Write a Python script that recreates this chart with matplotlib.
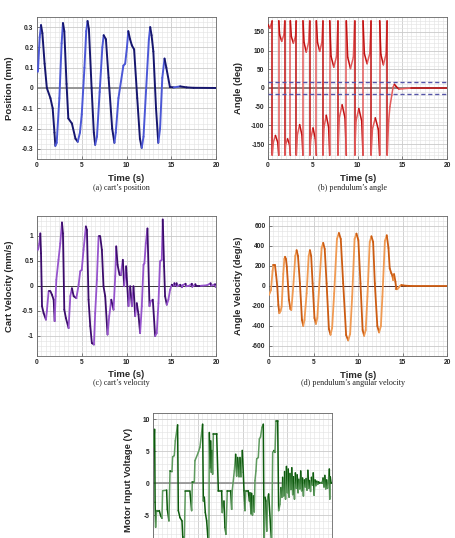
import matplotlib
matplotlib.use('Agg')
import matplotlib.pyplot as plt
import numpy as np
from matplotlib.collections import LineCollection
from matplotlib.ticker import MultipleLocator, FuncFormatter

plt.rcParams['font.family'] = 'Liberation Sans'
plt.rcParams['font.weight'] = 'bold'
plt.rcParams['axes.unicode_minus'] = False

# (a) cart position [mm]
t_pos = [0.1, 0.3, 0.45, 0.6, 0.85, 1.1, 1.5, 1.75, 1.95, 2.05,
         2.2, 2.5, 2.75, 2.9, 3.05, 3.3, 3.5, 3.9, 4.3, 4.55,
         4.8, 5.0, 5.3, 5.5, 5.65, 5.8, 6.1, 6.35, 6.5, 6.7,
         7.0, 7.3, 7.45, 7.7, 8.0, 8.4, 8.65, 8.8, 9.1, 9.65,
         9.85, 10.05, 10.2, 10.4, 10.6, 10.85, 11.2, 11.5, 11.7, 11.9,
         12.2, 12.5, 12.65, 12.8, 13.0, 13.3, 13.55, 13.75, 14.0, 14.25,
         14.45, 14.85, 15.3, 16.0, 16.7, 17.5, 20.0]
pos = [0.08, 0.25, 0.31, 0.27, 0.12, 0.0, -0.05, -0.1, -0.22, -0.285,
       -0.27, -0.05, 0.22, 0.32, 0.28, 0.02, -0.15, -0.175, -0.25, -0.265,
       -0.22, -0.13, 0.1, 0.28, 0.33, 0.29, 0.0, -0.22, -0.28, -0.24,
       -0.02, 0.2, 0.26, 0.24, 0.05, -0.2, -0.27, -0.22, -0.05, 0.11,
       0.12, 0.2, 0.28, 0.24, 0.21, 0.19, -0.05, -0.25, -0.295, -0.24,
       0.0, 0.24, 0.3, 0.26, 0.18, -0.1, -0.27, -0.2, 0.05, 0.145,
       0.1, 0.005, 0.003, 0.008, 0.003, 0.001, 0.0]

# (b) pendulum angle [deg], wrapped to +-180
t_ang = [0, 0.2, 0.48,
         0.48, 0.6, 0.83, 1.08, 1.2,
         1.2, 1.3, 1.53, 1.77, 1.87,
         1.87, 1.96, 2.18, 2.4, 2.5,
         2.5, 2.6, 2.83, 3.07, 3.17,
         3.17, 3.28, 3.53, 3.78, 3.9,
         3.9, 4.02, 4.27, 4.53, 4.65,
         4.65, 4.78, 5.02, 5.27, 5.4,
         5.4, 5.52, 5.77, 6.01, 6.13,
         6.13, 6.25, 6.5, 6.76, 6.88,
         6.88, 7.03, 7.34, 7.65, 7.8,
         7.8, 7.95, 8.27, 8.59, 8.74,
         8.74, 8.89, 9.2, 9.52, 9.67,
         9.67, 9.82, 10.13, 10.45, 10.6,
         10.6, 10.75, 11.05, 11.35, 11.5,
         11.5, 11.65, 11.97, 12.3, 12.45,
         12.45, 12.59, 12.87, 13.16, 13.3,
         13.3, 13.45, 13.6, 13.8, 13.95, 14.1, 14.3, 14.6, 15.0, 15.5, 16.0, 20.0]
ang = [170, 160, 180,
       -180, -145, -127, -145, -180,
       180, 142, 125, 142, 180,
       -180, -152, -136, -152, -180,
       180, 138, 120, 138, 180,
       -180, -125, -98, -125, -180,
       180, 122, 96, 122, 180,
       -180, -135, -107, -135, -180,
       180, 122, 98, 122, 180,
       -180, -105, -73, -105, -180,
       180, 85, 56, 85, 180,
       -180, -80, -45, -80, -180,
       180, 82, 52, 82, 180,
       -180, -88, -55, -88, -180,
       180, 92, 65, 92, 180,
       -180, -110, -80, -110, -180,
       180, 90, 62, 90, 180,
       -180, -90, -50, -20, 2, 10, 4, -3, -2, -1, 0, 0]
ang_band = [-15, 15]

# (c) cart velocity [mm/s]
t_vel = [0.11, 0.26, 0.37, 0.45, 0.56, 0.74, 1.0, 1.1, 1.3, 1.5,
         1.67, 1.86, 1.97, 2.08, 2.16, 2.4, 2.6, 2.79, 2.9, 3.05,
         3.23, 3.53, 3.72, 3.9, 4.1, 4.4, 4.65, 4.83, 5.0, 5.2,
         5.46, 5.58, 5.76, 5.95, 6.13, 6.36, 6.5, 6.69, 6.88, 7.06,
         7.25, 7.43, 7.62, 7.88, 8.07, 8.3, 8.55, 8.74, 8.85, 9.0,
         9.22, 9.37, 9.59, 9.74, 9.96, 10.22, 10.41, 10.6, 10.78, 10.97,
         11.15, 11.34, 11.52, 11.71, 11.9, 12.0, 12.16, 12.34, 12.57, 12.7,
         12.94, 13.2, 13.38, 13.57, 13.75, 13.94, 14.05, 14.2, 14.31, 14.5,
         14.68, 14.87, 15.06,
         15.3, 15.35, 15.5, 15.6, 15.65, 16.0, 16.2, 16.25, 16.6, 16.65,
         17.0, 17.3, 17.35, 17.7, 17.75, 18.3, 19.0, 19.4, 19.45, 19.9, 19.95, 20.0]
vel = [0.72, 0.85, 1.05, 0.65, -0.41, -0.55, -0.68, -0.51, -0.11, -0.11,
       -0.18, -0.28, -0.71, -0.21, 0.12, 0.52, 0.85, 1.27, 1.05, -0.48,
       -0.65, -0.85, -0.21, -0.05, -0.21, -0.25, 0.02, 0.29, 0.32, 0.72,
       1.19, 1.12, -0.28, -0.81, -1.15, -1.18, -0.55, 0.12, 0.99, 0.99,
       0.72, -0.01, -0.21, -0.98, -0.61, -0.28, -0.48, 0.19, 0.79, 0.42,
       0.22, 0.22, 0.52, -0.01, 0.39, -0.41, -0.01, -0.41, -0.01, -0.61,
       -0.35, -0.58, -0.95, -0.41, 0.42, 0.45, 0.85, 1.15, -0.41, -0.31,
       -0.28, -1.01, -0.95, -0.35, 0.49, 0.52, 1.33, 0.39, -0.21, -0.38,
       -0.28, -0.08, 0.02,
       0.0, 0.05, 0.01, 0.05, -0.01, 0.02, -0.03, 0.01, 0.04, -0.01,
       0.0, 0.04, -0.02, 0.03, 0.0, 0.0, 0.01, 0.05, 0.0, 0.03, -0.02, 0.0]

# (d) pendulum angular velocity [deg/s]
t_angvel = [0.0, 0.22, 0.4, 0.5, 0.67, 0.8, 0.93, 1.05, 1.16, 1.3,
            1.42, 1.6, 1.72, 1.8, 1.9, 2.0, 2.24, 2.4, 2.5, 2.72,
            2.95, 3.1, 3.25, 3.47, 3.7, 3.84, 3.98, 4.22, 4.45, 4.59,
            4.73, 4.89, 5.1, 5.26, 5.42, 5.63, 5.9, 6.08, 6.25, 6.46,
            6.72, 6.9, 7.08, 7.31, 7.62, 7.84, 8.05, 8.32, 8.65, 8.88,
            9.1, 9.33, 9.6, 9.81, 10.02, 10.26, 10.5, 10.67, 10.85, 11.04,
            11.3, 11.49, 11.68, 11.87, 12.15, 12.35, 12.55, 12.72, 13.0, 13.21,
            13.4, 13.54, 13.73, 13.85, 13.92, 14.03, 14.18, 14.29, 14.4, 14.55,
            14.7, 14.85, 15.1, 15.5, 16.0, 20.0]
angvel = [-90, -40, 150, 209, 209, 110, -7, -190, -272, -250,
          -205, 120, 270, 292, 270, 192, -139, -230, -239, -7,
          300, 358, 300, 27, -340, -398, -340, -73, 300, 358,
          300, 27, -320, -378, -320, -7, 380, 431, 370, 27,
          -430, -487, -420, -73, 470, 530, 470, 27, -490, -544,
          -480, -106, 470, 524, 460, 27, -440, -497, -440, -106,
          440, 497, 440, 27, -400, -464, -400, -106, 450, 507,
          380, 176, 126, 100, 60, 119, 43, -33, -33, -15,
          0, 10, 5, 2, 0, 0]

# (e) motor input voltage [V]
t_volt = [0.0, 0.15, 0.2, 0.26, 0.37, 0.67, 0.82, 0.97, 1.04, 1.49,
          1.57, 1.75, 1.87, 2.09, 2.16, 2.35, 2.46, 2.72, 2.8, 2.99,
          3.21, 3.3, 3.47, 3.58, 4.1, 4.29, 4.37, 4.59, 4.66, 5.04,
          5.22, 5.52, 5.6, 5.71, 5.82, 5.97, 6.16, 6.22, 6.27, 6.34,
          6.42, 6.49, 6.57, 6.64, 6.72, 7.09, 7.28, 7.65, 7.72, 7.91,
          8.02, 8.13, 8.28, 8.66, 8.77, 8.84, 9.07, 9.22, 9.33, 9.44,
          9.59, 9.7, 9.81, 9.96, 10.07, 10.15, 10.26, 10.34, 10.63, 10.75,
          10.82, 10.93, 11.0, 11.1, 11.2, 11.3, 11.38, 11.49, 11.57, 11.75,
          11.87, 12.0, 12.16, 12.31, 12.4, 12.5, 12.6, 12.7, 12.8, 12.91,
          13.13, 13.25, 13.36, 13.51, 13.62, 13.73, 13.92, 14.03, 14.18, 14.29,
          14.4, 14.48,
          14.6, 14.7, 14.8, 14.9, 15.0, 15.1, 15.2, 15.3, 15.4, 15.5,
          15.6, 15.7, 15.8, 15.9, 16.0, 16.1, 16.2, 16.3, 16.4, 16.5,
          16.6, 16.7, 16.8, 16.9, 17.0, 17.1, 17.2, 17.3, 17.4, 17.5,
          17.6, 17.7, 17.8, 17.9, 18.0, 18.1, 18.2, 18.3, 18.4, 18.5,
          18.6, 18.7, 18.8, 18.9, 19.0, 19.1, 19.2, 19.3, 19.4, 19.5,
          19.6, 19.7, 19.75, 19.8, 19.9, 20.0]
volt = [5.6, 8.4, -3.0, -6.9, -4.3, -4.3, -5.1, -5.5, -1.2, -1.1,
        -4.1, -5.9, 1.9, 1.8, 4.1, 4.3, 6.6, 9.1, -4.3, -5.4,
        -5.9, -8.5, -8.5, -1.3, -1.3, -4.3, 0.1, 0.1, 3.5, 4.8,
        5.6, 9.2, -2.8, -2.2, -4.6, -5.9, -9.5, -9.5, 7.9, 2.4,
        6.6, 1.7, 5.1, 1.4, 7.7, 7.7, -1.2, -1.2, -4.6, -2.8,
        -6.9, -8.0, -1.2, -1.2, -4.1, -1.1, 1.9, 4.5, 1.1, 4.0,
        1.0, 4.0, 1.0, 5.1, 1.7, -1.2, -4.3, -1.2, -1.2, -2.8,
        -1.5, -4.8, -1.6, -5.0, -2.0, -4.5, 0.4, 1.9, 3.8, 4.0,
        6.9, 7.2, 8.7, 9.2, -9.5, -2.2, -2.8, -7.5, -2.2, -1.7,
        -6.9, -9.5, 4.8, 5.1, 4.8, 9.7, 9.7, -4.3, -3.3, -0.7,
        -2.2, 0.9,
        -2.0, 1.8, -2.5, 2.6, -1.5, 2.2, -2.2, 1.5, -1.0, 2.4,
        -1.8, 1.0, -2.5, 1.6, -0.8, 1.3, -1.5, 0.6, -0.9, 1.9,
        -1.2, 0.8, -2.0, 0.5, -0.6, 0.7, -1.1, 2.0, -0.8, 0.4,
        -1.3, 0.9, -0.3, 1.6, -1.9, 0.5, -0.4, 0.3, -0.2, 0.2,
        0.0, 0.0, 0.1, 0.0, 0.8, -0.6, 1.2, -0.9, 0.5, -0.8,
        0.3, 2.2, -2.5, 1.0, 0.0, 0.0]
volt_ticks = [-5, 0, 5, 10]


def add_trace(ax, t, y, c_up, c_down, lw):
    # rising parts light, falling parts dark
    t = np.asarray(t, float)
    y = np.asarray(y, float)
    pts = np.column_stack([t, y])
    segs = np.stack([pts[:-1], pts[1:]], axis=1)
    cols = [c_up if b > a else c_down for a, b in zip(y[:-1], y[1:])]
    lc = LineCollection(segs, colors=cols, linewidths=lw,
                        capstyle='round', joinstyle='round', zorder=3)
    ax.add_collection(lc)


def fmt(v, p):
    v = round(v, 6)
    if v == 0:
        return '0'
    return f'{v:g}'


def style(ax, ylim, ymaj, ymin, ylabel, lab_x, lab_y=0.5, time_label=True):
    ax.set_xlim(0, 20)
    ax.set_ylim(*ylim)
    ax.xaxis.set_major_locator(MultipleLocator(5))
    ax.xaxis.set_minor_locator(MultipleLocator(0.5))
    ax.yaxis.set_major_locator(MultipleLocator(ymaj))
    ax.yaxis.set_minor_locator(MultipleLocator(ymin))
    ax.yaxis.set_major_formatter(FuncFormatter(fmt))
    ax.xaxis.set_major_formatter(FuncFormatter(fmt))
    ax.grid(which='minor', color='#e4e4e4', lw=0.45)
    ax.grid(which='major', color='#cacaca', lw=0.6)
    ax.set_axisbelow(True)
    ax.tick_params(which='major', direction='in', length=2.5, width=0.5,
                   color='#555555', labelsize=4.8, pad=2.5, labelcolor='#262626')
    ax.tick_params(which='minor', length=0)
    for s in ax.spines.values():
        s.set_color('#666666')
        s.set_linewidth(0.6)
    ax.set_ylabel(ylabel, fontsize=6.8, fontweight='bold', color='#262626')
    ax.yaxis.set_label_coords(lab_x, lab_y)
    if time_label:
        ax.set_xlabel('Time (s)', fontsize=6.8, fontweight='bold', color='#262626')
        ax.xaxis.set_label_coords(0.5, -0.105)
    else:
        # the bottom of this panel falls outside the page
        ax.tick_params(axis='x', labelbottom=False)


fig = plt.figure(figsize=(4.56, 5.38), dpi=100)
W, H = 456.0, 538.0

ax_a = fig.add_axes([37 / W, 1 - 159 / H, 179 / W, 142 / H])
ax_b = fig.add_axes([268 / W, 1 - 159 / H, 179.3 / W, 142 / H])
ax_c = fig.add_axes([37 / W, 1 - 355.5 / H, 179 / W, 139.5 / H])
ax_d = fig.add_axes([269 / W, 1 - 356 / H, 178.3 / W, 140 / H])
ax_e = fig.add_axes([153.3 / W, 1 - 553.5 / H, 178.7 / W, 140.8 / H])

# (a)
ax_a.axhline(0, color='#8e8e8e', lw=1.3, zorder=2)
add_trace(ax_a, t_pos, pos, '#4b57d6', '#16166e', 1.4)
style(ax_a, (-0.35, 0.35), 0.1, 0.025, 'Position (mm)', -0.128)

# (b)
ax_b.axhline(0, color='#8a7272', lw=1.3, zorder=2)
for lvl in ang_band:
    ax_b.axhline(lvl, color='#5555a8', lw=1.0, ls=(0, (3, 2)), zorder=4)
add_trace(ax_b, t_ang, ang, '#e35a5a', '#c01010', 1.1)
style(ax_b, (-190, 190), 50, 10, 'Angle (deg)', -0.139)

# (c)
ax_c.axhline(0, color='#3a3a3a', lw=0.7, zorder=2)
add_trace(ax_c, t_vel, vel, '#9654cc', '#3c0c6c', 1.3)
style(ax_c, (-1.4, 1.4), 0.5, 0.1, 'Cart Velocity (mm/s)', -0.128)

# (d)
ax_d.axhline(0, color='#4a3030', lw=0.7, zorder=2)
add_trace(ax_d, t_angvel, angvel, '#f09a52', '#cc5c12', 1.3)
style(ax_d, (-700, 700), 200, 50, 'Angle Velocity (deg/s)', -0.146)

# (e)
ax_e.axhline(0, color='#8e8e8e', lw=1.2, zorder=2)
add_trace(ax_e, t_volt, volt, '#5e9a5e', '#0c5a0c', 1.1)
style(ax_e, (-11, 11), 5, 1, 'Motor Input Voltage (V)', -0.114,
      lab_y=0.525, time_label=False)
ax_e.set_yticks(volt_ticks)

captions = ['(a) cart\u2019s position', '(b) pendulum\u2019s angle',
            '(c) cart\u2019s velocity', '(d) pendulum\u2019s angular velocity']
cap_x = [121, 353, 121, 353]
cap_y = [188, 188, 383, 383]
for txt, cx, cy in zip(captions, cap_x, cap_y):
    fig.text(cx / W, 1 - cy / H, txt, ha='center', va='center',
             family='Liberation Serif', fontweight='normal', fontsize=5.9,
             color='#222222')

fig.savefig('out.png', dpi=100)
